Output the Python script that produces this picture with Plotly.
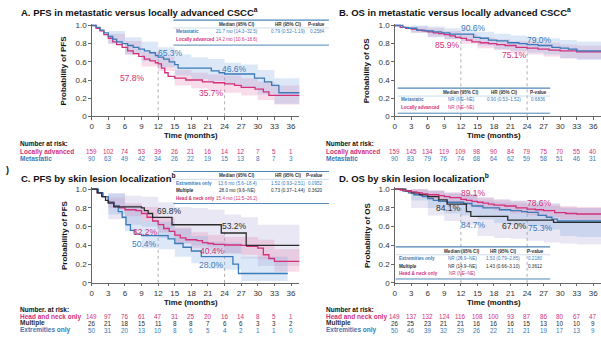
import plotly.graph_objects as go

W, H = 601, 346
FONT = "Liberation Sans, Arial, sans-serif"
PINK = "#d2307a"
BLUE = "#3a7ab8"
BLACK = "#2b2b2b"
BAND_PINK = "rgba(232,128,180,0.28)"
BAND_BLUE = "rgba(128,172,225,0.28)"
BAND_GRAY = "rgba(150,145,200,0.22)"

MONTHS = list(range(0, 37, 3))
Y_TICKS = [0, 0.2, 0.4, 0.6, 0.8, 1.0]
Y_TICKTEXT = ["0", "0.2", "0.4", "0.6", "0.8", "1.0"]
CI_T = [0, 3, 6, 9, 12, 15, 18, 21, 24, 27, 30, 33, 37.8]

# ---------------- Panel A: PFS metastatic vs locally advanced ----------------
A_met_t = [0, 0.8, 1.5, 2.2, 3, 3.8, 4.5, 5.5, 6.5, 7.5, 8.5, 9.5, 10.5, 11.5, 12, 13, 14, 15, 15.6, 21.6, 23, 24, 29.4, 31.2, 32.5, 33.8, 37.8]
A_met_s = [1, 0.98, 0.95, 0.92, 0.88, 0.85, 0.82, 0.80, 0.78, 0.76, 0.74, 0.72, 0.70, 0.67, 0.653, 0.63, 0.60, 0.57, 0.53, 0.50, 0.48, 0.466, 0.42, 0.38, 0.34, 0.26, 0.26]
A_la_t = [0, 0.8, 1.5, 2.2, 3, 3.8, 4.5, 5.5, 6.5, 7.5, 8.5, 9.5, 10.5, 11.5, 12, 12.6, 13.2, 13.8, 15, 17, 20, 22, 24, 25.8, 27, 29.5, 31, 32, 37.8]
A_la_s = [1, 0.97, 0.94, 0.90, 0.86, 0.82, 0.79, 0.76, 0.72, 0.69, 0.66, 0.63, 0.61, 0.59, 0.578, 0.53, 0.48, 0.44, 0.42, 0.40, 0.38, 0.37, 0.357, 0.34, 0.32, 0.30, 0.27, 0.23, 0.23]
A_met_lo = [1, 0.80, 0.68, 0.61, 0.54, 0.45, 0.41, 0.39, 0.35, 0.31, 0.24, 0.14, 0.14]
A_met_hi = [1, 0.94, 0.87, 0.82, 0.76, 0.68, 0.65, 0.63, 0.59, 0.57, 0.51, 0.42, 0.42]
A_la_lo = [1, 0.80, 0.68, 0.55, 0.50, 0.34, 0.31, 0.28, 0.26, 0.23, 0.18, 0.13, 0.13]
A_la_hi = [1, 0.91, 0.83, 0.71, 0.66, 0.51, 0.48, 0.46, 0.45, 0.42, 0.38, 0.34, 0.34]
A_risk_la = [159, 102, 74, 53, 39, 26, 21, 16, 14, 12, 7, 5, 1]
A_risk_met = [90, 63, 49, 42, 34, 26, 22, 19, 15, 13, 8, 7, 3]
A_marks = [(12, 0.653), (24, 0.466)]

# ---------------- Panel B: OS metastatic vs locally advanced ----------------
B_met_t = [0, 1.5, 2.5, 4, 5.5, 7, 8.5, 10, 14.3, 15.5, 17, 18.5, 20.5, 22.5, 24, 26, 28.5, 30, 31.5, 33, 37.8]
B_met_s = [1, 0.98, 0.97, 0.95, 0.94, 0.93, 0.92, 0.906, 0.87, 0.86, 0.84, 0.83, 0.81, 0.80, 0.79, 0.78, 0.76, 0.75, 0.74, 0.72, 0.72]
B_la_t = [0, 1, 2, 3, 4, 5, 6, 7, 8, 9, 10, 11, 12, 13, 14, 15.5, 17, 18.5, 20, 22, 24, 26, 28, 30, 33, 37.8]
B_la_s = [1, 0.98, 0.97, 0.96, 0.95, 0.94, 0.93, 0.92, 0.91, 0.90, 0.885, 0.87, 0.859, 0.84, 0.82, 0.81, 0.80, 0.79, 0.78, 0.76, 0.751, 0.74, 0.73, 0.72, 0.71, 0.71]
B_met_lo = [1, 0.92, 0.87, 0.85, 0.83, 0.78, 0.74, 0.72, 0.70, 0.68, 0.64, 0.62, 0.62]
B_met_hi = [1, 1.0, 0.99, 0.97, 0.96, 0.93, 0.91, 0.89, 0.87, 0.86, 0.84, 0.82, 0.82]
B_la_lo = [1, 0.92, 0.88, 0.85, 0.80, 0.75, 0.73, 0.70, 0.68, 0.66, 0.64, 0.63, 0.63]
B_la_hi = [1, 0.99, 0.97, 0.94, 0.91, 0.87, 0.85, 0.83, 0.82, 0.81, 0.79, 0.78, 0.78]
B_risk_la = [159, 145, 134, 119, 109, 98, 90, 84, 79, 75, 70, 55, 40]
B_risk_met = [90, 83, 79, 76, 74, 68, 64, 62, 59, 58, 51, 46, 31]
B_marks = [(12, 0.906), (24, 0.79)]

# ---------------- Panel C: PFS by skin lesion localization ----------------
C_mul_t = [0, 1, 1.8, 2.5, 3, 4, 9, 9.5, 10.2, 11, 14.5, 23.4, 27.9, 37.8]
C_mul_s = [1, 0.96, 0.92, 0.88, 0.85, 0.81, 0.80, 0.77, 0.74, 0.698, 0.62, 0.532, 0.40, 0.40]
C_hn_t = [0, 1, 2, 3, 4, 5, 6, 8, 9, 10, 11, 12, 13, 14, 15, 16, 17, 19, 20, 21, 22, 24, 27, 28, 30, 31, 32, 33, 37.8]
C_hn_s = [1, 0.96, 0.92, 0.86, 0.82, 0.80, 0.78, 0.77, 0.74, 0.70, 0.66, 0.622, 0.58, 0.55, 0.51, 0.48, 0.46, 0.45, 0.43, 0.42, 0.41, 0.404, 0.40, 0.39, 0.37, 0.30, 0.26, 0.23, 0.23]
C_ext_t = [0, 1.2, 2, 3, 4, 4.8, 5.5, 6.2, 7, 7.8, 9, 13.8, 15, 16.5, 18, 19.8, 25.5, 26.5, 35.4]
C_ext_s = [1, 0.96, 0.92, 0.86, 0.82, 0.76, 0.70, 0.62, 0.56, 0.52, 0.504, 0.47, 0.42, 0.38, 0.34, 0.28, 0.20, 0.10, 0.10]
C_mul_lo = [1, 0.68, 0.62, 0.60, 0.48, 0.42, 0.40, 0.38, 0.32, 0.26, 0.18, 0.18, 0.18]
C_mul_hi = [1, 0.96, 0.93, 0.92, 0.86, 0.81, 0.80, 0.78, 0.73, 0.70, 0.62, 0.62, 0.62]
C_hn_lo = [1, 0.80, 0.71, 0.66, 0.54, 0.42, 0.37, 0.34, 0.31, 0.30, 0.25, 0.12, 0.12]
C_hn_hi = [1, 0.91, 0.85, 0.81, 0.70, 0.59, 0.54, 0.51, 0.49, 0.49, 0.46, 0.36, 0.36]
C_ext_ci_t = [0, 3, 6, 9, 12, 15, 18, 21, 24, 27, 30, 33, 35.4]
C_ext_lo = [1, 0.73, 0.55, 0.37, 0.36, 0.28, 0.21, 0.15, 0.14, 0.02, 0.02, 0.02, 0.02]
C_ext_hi = [1, 0.95, 0.83, 0.66, 0.65, 0.58, 0.50, 0.44, 0.43, 0.28, 0.28, 0.28, 0.28]
C_risk_hn = [149, 97, 76, 61, 47, 31, 25, 20, 16, 14, 8, 5, 1]
C_risk_mul = [26, 21, 18, 15, 11, 8, 8, 7, 6, 6, 3, 3, 2]
C_risk_ext = [50, 31, 20, 13, 10, 8, 6, 5, 4, 2, 1, 1, 0]
C_marks = [(12, 0.698), (24, 0.532)]

# ---------------- Panel D: OS by skin lesion localization ----------------
D_hn_t = [0, 1, 2, 3, 4, 5, 6, 8, 9, 10, 12, 13, 14, 15, 16, 17, 18, 20, 22, 24, 25.5, 27, 29, 31, 33, 37.8]
D_hn_s = [1, 0.99, 0.98, 0.97, 0.96, 0.95, 0.94, 0.93, 0.92, 0.91, 0.891, 0.88, 0.87, 0.86, 0.85, 0.84, 0.83, 0.82, 0.80, 0.786, 0.78, 0.77, 0.75, 0.74, 0.735, 0.735]
D_mul_t = [0, 2, 3, 4.5, 6, 8, 9.5, 13, 13.8, 20.5, 28.8, 37.8]
D_mul_s = [1, 0.98, 0.96, 0.94, 0.92, 0.885, 0.841, 0.76, 0.71, 0.67, 0.645, 0.645]
D_ext_t = [0, 1.5, 2.5, 3.5, 5, 6, 7, 8, 9.5, 12.5, 14, 16, 19, 21, 23, 24, 26, 27.5, 28.5, 29.5, 37.8]
D_ext_s = [1, 0.98, 0.96, 0.94, 0.92, 0.90, 0.88, 0.87, 0.86, 0.847, 0.82, 0.80, 0.78, 0.77, 0.76, 0.753, 0.72, 0.70, 0.68, 0.66, 0.66]
D_mul_lo = [1, 0.80, 0.72, 0.66, 0.62, 0.50, 0.48, 0.47, 0.45, 0.43, 0.42, 0.41, 0.41]
D_mul_hi = [1, 1.0, 0.99, 0.97, 0.95, 0.88, 0.86, 0.85, 0.83, 0.82, 0.81, 0.80, 0.80]
D_ext_lo = [1, 0.88, 0.80, 0.74, 0.72, 0.68, 0.64, 0.62, 0.61, 0.57, 0.50, 0.49, 0.49]
D_ext_hi = [1, 1.0, 0.98, 0.95, 0.94, 0.91, 0.89, 0.88, 0.87, 0.85, 0.80, 0.80, 0.80]
D_hn_lo = [1, 0.94, 0.89, 0.86, 0.83, 0.80, 0.77, 0.74, 0.72, 0.70, 0.68, 0.67, 0.67]
D_hn_hi = [1, 1.0, 0.98, 0.96, 0.94, 0.91, 0.89, 0.87, 0.85, 0.84, 0.82, 0.81, 0.81]
D_risk_hn = [149, 137, 132, 124, 116, 108, 100, 93, 87, 86, 80, 67, 47]
D_risk_mul = [26, 25, 23, 21, 21, 16, 16, 16, 15, 13, 10, 10, 9]
D_risk_ext = [50, 46, 39, 32, 29, 26, 22, 21, 21, 19, 17, 13, 9]
D_marks = [(12, 0.891), (24, 0.786)]

# ---------------- Inset tables ----------------
TAB_HEAD = ["Median (95% CI)", "HR (95% CI)", "P-value"]
TAB_A = [("Metastatic", BLUE, ["21.7 mo (14.3–32.5)", "0.79 (0.52–1.19)", "0.2584"]),
         ("Locally advanced", PINK, ["14.2 mo (10.6–18.6)", "", ""])]
TAB_B = [("Metastatic", BLUE, ["NR (NE–NE)", "0.90 (0.53–1.52)", "0.6836"]),
         ("Locally advanced", PINK, ["NR (NE–NE)", "", ""])]
TAB_C = [("Extremities only", BLUE, ["13.6 mo (5.6–18.4)", "1.52 (0.93–2.51)", "0.0952"]),
         ("Multiple", BLACK, ["28.0 mo (9.6–NE)", "0.73 (0.37–1.44)", "0.3620"]),
         ("Head & neck only", PINK, ["15.4 mo (12.5–26.2)", "", ""])]
TAB_D = [("Extremities only", BLUE, ["NR (26.9–NE)", "1.50 (0.79–2.85)", "0.2180"]),
         ("Multiple", BLACK, ["NR (14.9–NE)", "1.43 (0.66–3.10)", "0.3612"]),
         ("Head & neck only", PINK, ["NR (NE–NE)", "", ""])]


def px(x):
    return x / W


def py(y):
    return 1 - y / H


fig = go.Figure()
annotations = []
shapes = []

X_RANGE_L = [0, 37.5]
X_RANGE_R = [0, 37.4]
Y_RANGE = [0, 1.02]
XDOM_L = [px(90), px(90 + 37.5 * 5.556)]
XDOM_R = [px(394), 1.0]
YDOM_T = [py(116.7), py(116.7 - 1.02 * 92.7)]
YDOM_B = [py(286.7), py(286.7 - 1.02 * 95.7)]

panels = {
    "A": dict(xa="x", ya="y", xdom=XDOM_L, ydom=YDOM_T, xr=X_RANGE_L),
    "B": dict(xa="x2", ya="y2", xdom=XDOM_R, ydom=YDOM_T, xr=X_RANGE_R),
    "C": dict(xa="x3", ya="y3", xdom=XDOM_L, ydom=YDOM_B, xr=X_RANGE_L),
    "D": dict(xa="x4", ya="y4", xdom=XDOM_R, ydom=YDOM_B, xr=X_RANGE_R),
}


def band(p, t, lo, hi, color):
    P = panels[p]
    fig.add_trace(go.Scatter(x=t, y=lo, mode="lines", line=dict(width=0, shape="hv"),
                             xaxis=P["xa"], yaxis=P["ya"], hoverinfo="skip"))
    fig.add_trace(go.Scatter(x=t, y=hi, mode="lines", line=dict(width=0, shape="hv"),
                             fill="tonexty", fillcolor=color,
                             xaxis=P["xa"], yaxis=P["ya"], hoverinfo="skip"))


def curve(p, t, s, color):
    P = panels[p]
    fig.add_trace(go.Scatter(x=t, y=s, mode="lines", line=dict(width=1.3, shape="hv", color=color),
                             xaxis=P["xa"], yaxis=P["ya"]))


# bands
band("A", CI_T, A_la_lo, A_la_hi, BAND_PINK)
band("A", CI_T, A_met_lo, A_met_hi, BAND_BLUE)
band("B", CI_T, B_la_lo, B_la_hi, BAND_PINK)
band("B", CI_T, B_met_lo, B_met_hi, BAND_BLUE)
band("C", CI_T, C_mul_lo, C_mul_hi, BAND_GRAY)
band("C", CI_T, C_hn_lo, C_hn_hi, BAND_PINK)
band("C", C_ext_ci_t, C_ext_lo, C_ext_hi, BAND_BLUE)
band("D", CI_T, D_mul_lo, D_mul_hi, BAND_GRAY)
band("D", CI_T, D_ext_lo, D_ext_hi, BAND_BLUE)
band("D", CI_T, D_hn_lo, D_hn_hi, BAND_PINK)

# curves
curve("A", A_la_t, A_la_s, PINK)
curve("A", A_met_t, A_met_s, BLUE)
curve("B", B_la_t, B_la_s, PINK)
curve("B", B_met_t, B_met_s, BLUE)
curve("C", C_hn_t, C_hn_s, PINK)
curve("C", C_ext_t, C_ext_s, BLUE)
curve("C", C_mul_t, C_mul_s, BLACK)
curve("D", D_ext_t, D_ext_s, BLUE)
curve("D", D_mul_t, D_mul_s, BLACK)
curve("D", D_hn_t, D_hn_s, PINK)

# landmark dotted lines
for p, marks in [("A", A_marks), ("B", B_marks), ("C", C_marks), ("D", D_marks)]:
    P = panels[p]
    for (mx, my) in marks:
        shapes.append(dict(type="line", xref=P["xa"], yref=P["ya"], x0=mx, x1=mx, y0=0, y1=my,
                           line=dict(color="#9a9a9a", width=0.8, dash="dot"), layer="below"))


# percentage labels
def pct(p, x, y, val, color):
    P = panels[p]
    annotations.append(dict(xref=P["xa"], yref=P["ya"], x=x, y=y, text=f"{val*100:.1f}%",
                            showarrow=False, font=dict(size=8.5, color=color, family=FONT)))


pct("A", 14.3, 0.70, 0.653, BLUE)
pct("A", 7.3, 0.42, 0.578, PINK)
pct("A", 25.8, 0.52, 0.466, BLUE)
pct("A", 21.6, 0.26, 0.357, PINK)
pct("B", 14.3, 0.975, 0.906, BLUE)
pct("B", 9.5, 0.79, 0.859, PINK)
pct("B", 26.2, 0.84, 0.790, BLUE)
pct("B", 21.7, 0.675, 0.751, PINK)
pct("C", 14.1, 0.77, 0.698, BLACK)
pct("C", 9.8, 0.545, 0.622, PINK)
pct("C", 9.6, 0.41, 0.504, BLUE)
pct("C", 25.8, 0.61, 0.532, BLACK)
pct("C", 21.8, 0.34, 0.404, PINK)
pct("C", 21.6, 0.19, 0.280, BLUE)
pct("D", 14.3, 0.96, 0.891, PINK)
pct("D", 9.7, 0.80, 0.841, BLACK)
pct("D", 14.3, 0.62, 0.847, BLUE)
pct("D", 26.2, 0.85, 0.786, PINK)
pct("D", 21.7, 0.61, 0.670, BLACK)
pct("D", 26.4, 0.59, 0.753, BLUE)


def text(x, y, s, size, color="#111", bold=False, xanchor="left", angle=0):
    if bold:
        s = f"<b>{s}</b>"
    annotations.append(dict(xref="paper", yref="paper", x=px(x), y=py(y), text=s, showarrow=False,
                            xanchor=xanchor, yanchor="middle", textangle=angle,
                            font=dict(size=size, color=color, family=FONT)))


# titles
text(17, 10, "A. PFS in metastatic versus locally advanced CSCC<sup>a</sup>", 9.5, bold=True)
text(336, 10, "B. OS in metastatic versus locally advanced CSCC<sup>a</sup>", 9.5, bold=True)
text(17, 180, "C. PFS by skin lesion localization<sup>b</sup>", 9.5, bold=True)
text(336, 180, "D. OS by skin lesion localization<sup>b</sup>", 9.5, bold=True)
text(2, 171, ")", 9, bold=True)

# axis titles
text(62, 70, "Probability of PFS", 8, bold=True, xanchor="center", angle=-90)
text(366, 70, "Probability of OS", 8, bold=True, xanchor="center", angle=-90)
text(62, 238, "Probability of PFS", 8, bold=True, xanchor="center", angle=-90)
text(366, 238, "Probability of OS", 8, bold=True, xanchor="center", angle=-90)
for xc, yc in [(190, 136.2), (494, 136.2), (190, 306.2), (494, 306.2)]:
    text(xc, yc, "Time (months)", 7.8, bold=True, xanchor="center")


# number at risk
def risk_block(p, x_lab, y_head, head, rows):
    P = panels[p]
    text(x_lab, y_head, head, 6.5, bold=True)
    for (label, color, vals, yrow) in rows:
        text(x_lab, yrow, label, 6.5, color=color, bold=True)
        for m, v in zip(MONTHS, vals):
            annotations.append(dict(xref=P["xa"], yref="paper", x=m, y=py(yrow), text=str(v),
                                    showarrow=False, xanchor="center", yanchor="middle",
                                    font=dict(size=6.3, color=color, family=FONT)))


risk_block("A", 16, 144, "Number at risk:", [("Locally advanced", PINK, A_risk_la, 152.8), ("Metastatic", BLUE, A_risk_met, 160)])
risk_block("B", 323, 144, "Number at risk:", [("Locally advanced", PINK, B_risk_la, 152.8), ("Metastatic", BLUE, B_risk_met, 160)])
risk_block("C", 16, 314, "Number. at risk:", [("Head and neck only", PINK, C_risk_hn, 321), ("Multiple", BLACK, C_risk_mul, 327.9), ("Extremities only", BLUE, C_risk_ext, 335)])
risk_block("D", 323, 314, "Number at risk:", [("Head and neck only", PINK, D_risk_hn, 321), ("Multiple", BLACK, D_risk_mul, 327.9), ("Extremities only", BLUE, D_risk_ext, 335)])


# inset tables
def table(x0, x1, y_top, cols, rows, row_gap):
    y_head = y_top + 4.5
    y_sep = y_top + 8
    shapes.append(dict(type="line", xref="paper", yref="paper", x0=px(x0), x1=px(x1), y0=py(y_top), y1=py(y_top),
                       line=dict(color="#4f86b8", width=1.2)))
    shapes.append(dict(type="line", xref="paper", yref="paper", x0=px(x0), x1=px(x1), y0=py(y_sep), y1=py(y_sep),
                       line=dict(color="#a9c3dc", width=0.6)))
    for c, h in zip(cols, TAB_HEAD):
        text(c, y_head, h, 4.6, color="#333", bold=True, xanchor="center")
    y = y_sep + 4
    for (label, color, vals) in rows:
        text(x0 + 1, y, label, 4.6, color=color, bold=True)
        for c, v in zip(cols, vals):
            if v:
                text(c, y, v, 4.6, color=color, xanchor="center")
        y += row_gap
    y_bot = y - row_gap + 5.5
    shapes.append(dict(type="line", xref="paper", yref="paper", x0=px(x0), x1=px(x1), y0=py(y_bot), y1=py(y_bot),
                       line=dict(color="#4f86b8", width=1.0)))


table(172, 328, 18.5, [236, 287, 316], TAB_A, 8)
table(397, 550, 88, [461, 504, 538], TAB_B, 8)
table(172, 328, 173, [236, 287, 314], TAB_C, 7.6)
table(395, 550, 250, [462, 503, 535], TAB_D, 7.6)

axis_common = dict(showline=True, linecolor="#666", linewidth=1, ticks="outside", ticklen=2.5,
                   tickcolor="#666", tickwidth=1, showgrid=False, zeroline=False,
                   tickfont=dict(size=8, color="#333", family=FONT))

layout_axes = {}
for i, key in enumerate(["A", "B", "C", "D"]):
    P = panels[key]
    sfx = "" if i == 0 else str(i + 1)
    layout_axes["xaxis" + sfx] = dict(axis_common, domain=P["xdom"], range=P["xr"], tickvals=MONTHS,
                                      anchor="y" + sfx)
    layout_axes["yaxis" + sfx] = dict(axis_common, domain=P["ydom"], range=Y_RANGE, tickvals=Y_TICKS,
                                      ticktext=Y_TICKTEXT, anchor="x" + sfx)

fig.update_layout(width=W, height=H, autosize=False, margin=dict(l=0, r=0, t=0, b=0),
                  paper_bgcolor="white", plot_bgcolor="rgba(0,0,0,0)", showlegend=False,
                  font=dict(family=FONT), annotations=annotations, shapes=shapes, **layout_axes)

fig.write_html("out.html", config={"displayModeBar": False, "staticPlot": True},
               post_script="document.body.style.margin='0px';")
